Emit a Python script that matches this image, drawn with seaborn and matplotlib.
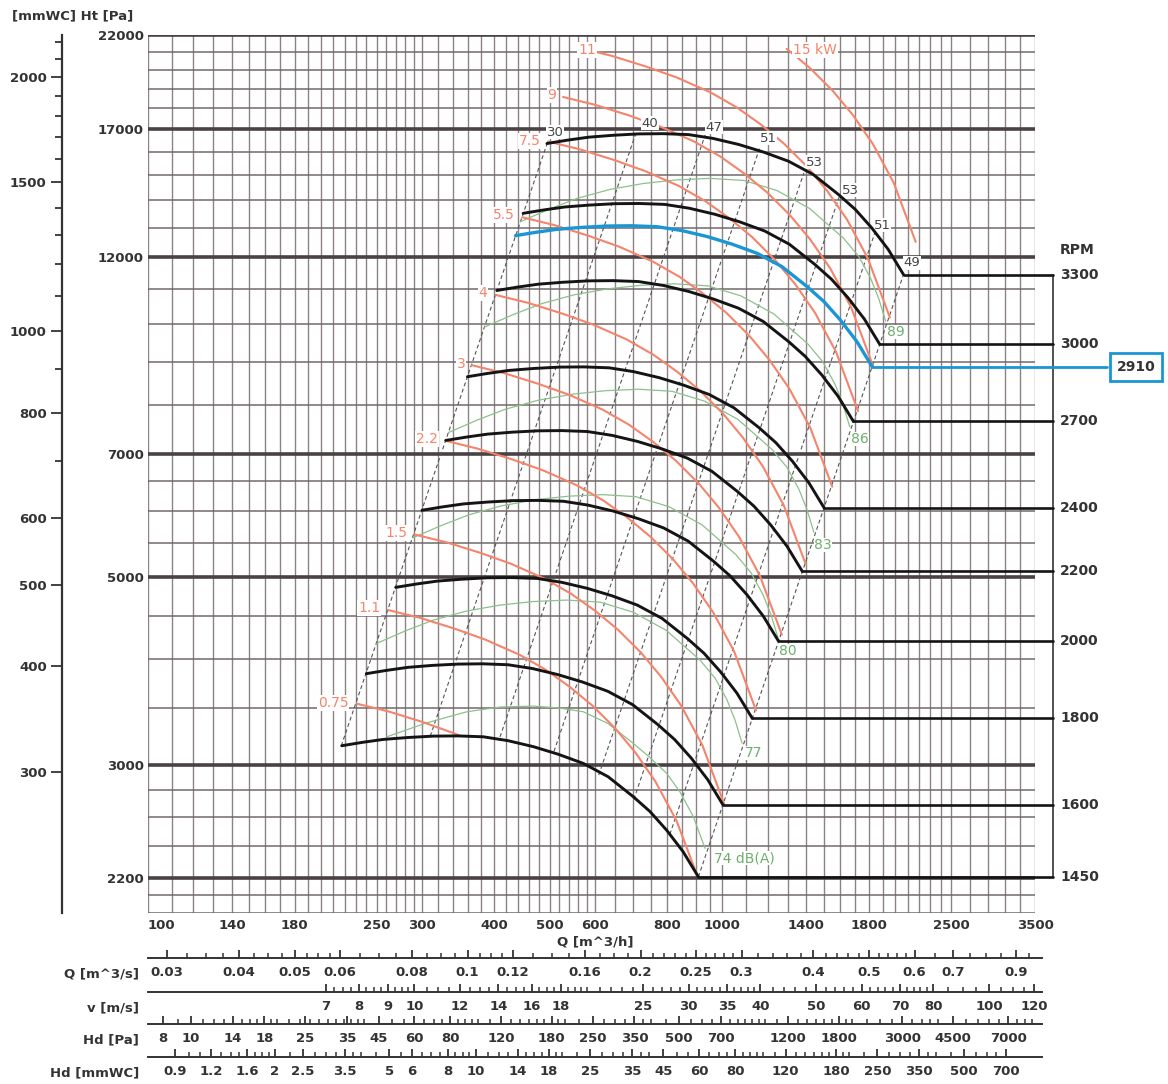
import numpy as np
import pandas as pd
import seaborn as sns
import matplotlib.pyplot as plt
from matplotlib.ticker import FixedLocator, FixedFormatter, NullFormatter, NullLocator

sns.set_theme(style="white")
plt.rcParams['font.family'] = ['DejaVu Sans']
plt.rcParams['font.weight'] = 'bold'

# ---- fan curves: Q [m^3/h], Ht [Pa] ----
q_1450 = [217.4, 235.9, 256.8, 283.6, 313.8, 346.5, 383.5, 423.4, 468.7, 517.4, 572.6, 632.2, 699.8, 748.2, 799.8, 853.9, 907.9]
p_1450 = [3158, 3187, 3213, 3230, 3242, 3244, 3236, 3202, 3150, 3086, 3009, 2902, 2747, 2638, 2507, 2365, 2208]
q_1600 = [239.9, 260.3, 283.4, 312.9, 346.3, 382.3, 423.2, 467.2, 517.2, 570.9, 631.8, 697.6, 772.2, 825.6, 882.5, 942.2, 1001.8]
p_1600 = [3845, 3880, 3912, 3933, 3947, 3950, 3940, 3899, 3835, 3758, 3664, 3533, 3345, 3212, 3053, 2880, 2688]
q_1800 = [269.9, 292.8, 318.8, 352.1, 389.5, 430.1, 476.1, 525.6, 581.8, 642.3, 710.8, 784.8, 868.7, 928.8, 992.8, 1060.0, 1127.0]
p_1800 = [4867, 4911, 4951, 4977, 4996, 4999, 4987, 4934, 4854, 4756, 4637, 4472, 4233, 4065, 3863, 3645, 3403]
q_2000 = [299.9, 325.4, 354.2, 391.2, 432.8, 477.9, 529.0, 584.0, 646.5, 713.7, 789.8, 872.0, 965.2, 1032.0, 1103.2, 1177.8, 1252.3]
p_2000 = [6008, 6063, 6113, 6145, 6168, 6172, 6157, 6092, 5993, 5871, 5725, 5521, 5226, 5019, 4770, 4499, 4201]
q_2200 = [329.8, 357.9, 389.6, 430.3, 476.1, 525.7, 581.9, 642.4, 711.1, 785.0, 868.8, 959.2, 1061.8, 1135.2, 1213.5, 1295.6, 1377.5]
p_2200 = [7270, 7336, 7396, 7436, 7463, 7468, 7449, 7371, 7251, 7104, 6927, 6680, 6324, 6073, 5771, 5444, 5083]
q_2400 = [359.8, 390.5, 425.0, 469.4, 519.4, 573.5, 634.8, 700.8, 775.8, 856.4, 947.8, 1046.4, 1158.3, 1238.4, 1323.8, 1413.3, 1502.7]
p_2400 = [8652, 8731, 8802, 8849, 8882, 8887, 8865, 8772, 8630, 8454, 8243, 7950, 7526, 7227, 6868, 6479, 6049]
q_2700 = [404.8, 439.3, 478.2, 528.1, 584.3, 645.2, 714.1, 788.4, 872.8, 963.4, 1066.2, 1177.2, 1303.1, 1393.2, 1489.3, 1590.0, 1690.6]
p_2700 = [10950, 11050, 11140, 11199, 11241, 11248, 11220, 11102, 10922, 10700, 10433, 10062, 9525, 9147, 8693, 8200, 7656]
q_3000 = [449.8, 488.1, 531.3, 586.8, 649.2, 716.9, 793.4, 876.0, 969.7, 1070.5, 1184.7, 1308.0, 1447.9, 1548.0, 1654.7, 1766.7, 1878.4]
p_3000 = [13518, 13642, 13754, 13826, 13878, 13886, 13852, 13706, 13484, 13210, 12880, 12422, 11759, 11292, 10731, 10124, 9452]
q_3300 = [494.8, 536.9, 584.4, 645.4, 714.2, 788.6, 872.8, 963.6, 1066.7, 1177.5, 1303.2, 1438.8, 1592.6, 1702.8, 1820.2, 1943.3, 2066.2]
p_3300 = [16357, 16507, 16642, 16730, 16792, 16803, 16761, 16585, 16316, 15984, 15585, 15031, 14228, 13664, 12985, 12250, 11436]
# selected duty point curve
q_2910 = [436.3, 473.4, 515.4, 569.2, 629.8, 695.4, 769.6, 849.7, 940.6, 1038.4, 1149.2, 1268.8, 1404.4, 1501.6, 1605.1, 1713.7, 1822.1]
p_2910 = [12719, 12836, 12941, 13009, 13058, 13066, 13033, 12896, 12687, 12429, 12119, 11688, 11064, 10625, 10097, 9525, 8893]

rpm_values = [1450, 1600, 1800, 2000, 2200, 2400, 2700, 3000, 3300]
rpm_q = [q_1450, q_1600, q_1800, q_2000, q_2200, q_2400, q_2700, q_3000, q_3300]
rpm_p = [p_1450, p_1600, p_1800, p_2000, p_2200, p_2400, p_2700, p_3000, p_3300]

# ---- shaft power curves [kW] ----
kw_0_75_q = [230.7, 262.3, 300.8, 340.2, 350.0]
kw_0_75_p = [3543, 3468, 3369, 3269, 3243]
kw_1_1_q = [262.1, 297.9, 341.7, 386.5, 443.0, 492.0, 541.6, 593.8, 651.3, 705.6, 764.6, 831.6, 901.2]
kw_1_1_p = [4574, 4477, 4348, 4220, 4050, 3888, 3711, 3524, 3309, 3099, 2863, 2574, 2227]
kw_1_5_q = [290.6, 330.4, 379.0, 428.7, 491.2, 545.6, 600.6, 658.5, 722.2, 782.5, 848.0, 922.2, 1007.0]
kw_1_5_p = [5625, 5506, 5348, 5190, 4981, 4781, 4564, 4333, 4069, 3811, 3521, 3165, 2694]
kw_2_2_q = [330.2, 375.4, 430.6, 487.1, 558.1, 619.9, 682.4, 748.2, 820.6, 889.0, 963.5, 1047.9, 1144.2]
kw_2_2_p = [7262, 7107, 6903, 6700, 6431, 6172, 5892, 5594, 5254, 4920, 4546, 4086, 3478]
kw_3_q = [366.2, 416.3, 477.5, 540.1, 618.9, 687.4, 756.7, 829.7, 910.0, 985.9, 1068.4, 1162.0, 1268.8]
kw_3_p = [8929, 8739, 8488, 8238, 7907, 7590, 7245, 6879, 6460, 6050, 5590, 5024, 4277]
kw_4_q = [403.1, 458.2, 525.5, 594.5, 681.2, 756.6, 832.9, 913.2, 1001.6, 1085.1, 1175.9, 1278.9, 1396.5]
kw_4_p = [10817, 10588, 10284, 9980, 9579, 9195, 8777, 8334, 7826, 7329, 6772, 6087, 5181]
kw_5_5_q = [448.2, 509.5, 584.4, 661.0, 757.5, 841.4, 926.1, 1015.4, 1113.7, 1206.6, 1307.6, 1422.1, 1552.9]
kw_5_5_p = [13375, 13091, 12715, 12340, 11844, 11369, 10852, 10304, 9676, 9062, 8373, 7526, 6406]
kw_7_5_q = [497, 565, 648, 733, 840, 933, 1027, 1126, 1235, 1338, 1450, 1577, 1722]
kw_7_5_p = [16447, 16098, 15636, 15174, 14565, 13980, 13345, 12671, 11899, 11144, 10296, 9255, 7878]
kw_9_q = [528.1, 600.4, 688.6, 778.9, 892.6, 991.5, 1091.4, 1196.6, 1312.4, 1421.8, 1540.9, 1675.8, 1829.9]
kw_9_p = [18573, 18179, 17657, 17135, 16447, 15787, 15070, 14309, 13437, 12584, 11627, 10451, 8896]
kw_11_q = [564.7, 641.9, 736.2, 832.8, 954.4, 1060.0, 1166.8, 1279.3, 1403.2, 1520.2, 1647.4, 1791.7, 1956.5]
kw_11_p = [21231, 20781, 20184, 19588, 18802, 18047, 17227, 16357, 15360, 14386, 13291, 11947, 10170]
kw_15_q = [1293.9, 1418.7, 1556.0, 1685.8, 1826.9, 1986.9, 2169.6]
kw_15_p = [21184, 20114, 18888, 17690, 16344, 14691, 12505]

kw_labels = ['0.75', '1.1', '1.5', '2.2', '3', '4', '5.5', '7.5', '9', '11', '15 kW']
kw_q = [kw_0_75_q, kw_1_1_q, kw_1_5_q, kw_2_2_q, kw_3_q, kw_4_q, kw_5_5_q, kw_7_5_q, kw_9_q, kw_11_q, kw_15_q]
kw_p = [kw_0_75_p, kw_1_1_p, kw_1_5_p, kw_2_2_p, kw_3_p, kw_4_p, kw_5_5_p, kw_7_5_p, kw_9_p, kw_11_p, kw_15_p]
kw_label_px = [(333, 703), (369, 608), (396, 533), (427, 439), (461, 364), (483, 293),
               (504, 215), (530, 141), (552, 95), (587, 50), (815, 50)]

# ---- sound level curves [dB(A)] ----
db_74_q = [260.4, 304.8, 358.8, 410.1, 468.7, 517.4, 572.6, 632.2, 699.8, 748.2, 799.8, 843.7, 890.0, 932.6]
db_74_p = [3236, 3360, 3465, 3510, 3519, 3502, 3465, 3355, 3178, 3057, 2928, 2783, 2601, 2386]
db_77_q = [250.1, 280.2, 313.9, 357.8, 410.1, 468.1, 535.7, 612.3, 698.9, 797.6, 914.1, 970.8, 1018.6, 1051.8, 1081.7]
db_77_p = [4177, 4320, 4451, 4561, 4637, 4682, 4701, 4675, 4549, 4330, 3990, 3799, 3578, 3387, 3181]
db_80_q = [288.8, 323.6, 362.5, 413.2, 473.6, 540.6, 618.6, 707.1, 807.1, 921.1, 1055.6, 1121.1, 1176.3, 1214.7, 1249.2]
db_80_p = [5571, 5761, 5936, 6083, 6184, 6244, 6269, 6235, 6067, 5775, 5321, 5066, 4772, 4517, 4242]
db_83_q = [333.5, 373.7, 418.6, 477.2, 546.9, 624.3, 714.4, 816.6, 932.1, 1063.7, 1219.1, 1294.7, 1358.4, 1402.7, 1442.6]
db_83_p = [7429, 7683, 7916, 8112, 8247, 8327, 8361, 8315, 8091, 7701, 7096, 6757, 6364, 6024, 5658]
db_86_q = [385.2, 431.5, 483.4, 551.1, 631.6, 720.9, 825.0, 943.0, 1076.4, 1228.4, 1407.8, 1495.1, 1568.8, 1619.9, 1665.9]
db_86_p = [9908, 10247, 10558, 10819, 10999, 11105, 11151, 11089, 10790, 10271, 9464, 9011, 8487, 8034, 7545]
db_89_q = [444.8, 498.4, 558.3, 636.4, 729.4, 832.5, 952.8, 1089.0, 1243.0, 1418.6, 1625.8, 1726.6, 1811.6, 1870.7, 1923.9]
db_89_p = [13213, 13665, 14080, 14428, 14668, 14811, 14871, 14788, 14390, 13697, 12622, 12017, 11318, 10714, 10063]

db_labels = ['74 dB(A)', '77', '80', '83', '86', '89']
db_q = [db_74_q, db_77_q, db_80_q, db_83_q, db_86_q, db_89_q]
db_p = [db_74_p, db_77_p, db_80_p, db_83_p, db_86_p, db_89_p]
db_label_px = [(744, 858), (754, 753), (788, 651), (823, 545), (860, 439), (896, 332)]

# ---- system lines with efficiency [%] at the top ----
sys_q_top = [497, 707, 933, 1160, 1386, 1596, 1844, 2066]
sys_p_top = [16472, 16832, 16743, 16130, 15100, 14130, 12845, 11436]
sys_q_bot = [217, 310, 410, 509, 609, 701, 810, 908]
sys_p_bot = [3158, 3242, 3235, 3110, 2915, 2728, 2480, 2208]
eff_labels = ['30', '40', '47', '51', '53', '53', '51', '49']
eff_label_px = [(555, 132), (650, 123), (714, 127), (768, 138), (814, 162), (850, 190), (882, 225), (912, 263)]

# ---- grid and axis ticks ----
grid_q = (list(range(100, 300, 10)) + list(range(300, 600, 20)) + list(range(600, 1000, 50))
          + list(range(1000, 2500, 100)) + list(range(2500, 3501, 200)))
grid_p = ([2100, 2200, 2400, 2600, 2800, 3000, 3500, 4000, 4500, 5000, 5500, 6000, 6500, 7000]
          + list(range(8000, 22001, 1000)))
major_p = [2200, 3000, 5000, 7000, 12000, 17000, 22000]
q_ticks = [100, 140, 180, 250, 300, 400, 500, 600, 800, 1000, 1400, 1800, 2500, 3500]
mm_ticks = [300, 400, 500, 600, 800, 1000, 1500, 2000]
mm_minor = [700, 900, 1100, 1200, 1300, 1400, 1600, 1700, 1800, 1900, 2100, 2200]

qs_labels = ['0.03', '0.04', '0.05', '0.06', '0.08', '0.1', '0.12', '0.16', '0.2', '0.25', '0.3',
             '0.4', '0.5', '0.6', '0.7', '0.9']
v_labels = ['7', '8', '9', '10', '12', '14', '16', '18', '25', '30', '35', '40', '50', '60', '70',
            '80', '100', '120']
hd_pa_labels = ['8', '10', '14', '18', '25', '35', '45', '60', '80', '120', '180', '250', '350', '500',
                '700', '1200', '1800', '3000', '4500', '7000']
hd_mm_labels = ['0.9', '1.2', '1.6', '2', '2.5', '3.5', '5', '6', '8', '10', '14', '18', '25', '35',
                '45', '60', '80', '120', '180', '250', '350', '500', '700']
K_V = 29.1  # m^3/h per m/s of outlet velocity (from the v scale)

BLACK = '#141414'
BLUE = '#1b96d4'
ORANGE = '#f4846b'
GREEN = '#8cc08c'
GREEN_TXT = '#6fae6f'
GRAY_TXT = '#333333'

W, H = 1168, 1084
L, R, T, B = 148, 1035, 35, 913
Q_MIN, Q_MAX = 100, 3500
P_MIN, P_MAX = 2000, 22000

fig = plt.figure(figsize=(W / 100, H / 100), dpi=100, facecolor='white')
ax = fig.add_axes([L / W, 1 - B / H, (R - L) / W, (B - T) / H])
ax.set_xscale('log')
ax.set_yscale('log')
ax.set_xlim(Q_MIN, Q_MAX)
ax.set_ylim(P_MIN, P_MAX)
for s in ax.spines.values():
    s.set_visible(False)


def at(x, y):
    # page position in pixels -> data position, used to place labels only
    fx = (x - L) / (R - L)
    fy = (B - y) / (B - T)
    return Q_MIN * (Q_MAX / Q_MIN) ** fx, P_MIN * (P_MAX / P_MIN) ** fy


def curve(q, p, color, lw, z, ls='-'):
    sns.lineplot(x=q, y=p, ax=ax, color=color, linewidth=lw, sort=False, estimator=None,
                 legend=False, zorder=z, linestyle=ls)


# grid
for q in grid_q:
    ax.axvline(q, color='#8c8484', lw=1.0, zorder=1)
for p in grid_p + [P_MIN]:
    if p in major_p:
        ax.axhline(p, color='#4a4242', lw=2.6, zorder=1.2)
    else:
        ax.axhline(p, color='#726a6a', lw=1.1, zorder=1.1)

ax.set_xticks(q_ticks)
ax.set_xticklabels([str(v) for v in q_ticks])
ax.xaxis.set_minor_locator(NullLocator())
ax.set_yticks(major_p)
ax.set_yticklabels([str(v) for v in major_p])
ax.yaxis.set_minor_locator(NullLocator())
ax.tick_params(axis='x', length=0, pad=4, labelsize=9.5, labelcolor=GRAY_TXT)
ax.tick_params(axis='y', length=0, pad=3, labelsize=9.5, labelcolor=GRAY_TXT)
ax.get_xticklabels()[0].set_horizontalalignment('left')

# outer mmWC scale
sec = ax.secondary_yaxis(-(L - 62) / (R - L), functions=(lambda p: p / 9.80665, lambda m: m * 9.80665))
sec.set_yticks(mm_ticks, labels=[str(v) for v in mm_ticks])
sec.yaxis.set_minor_locator(FixedLocator(mm_minor))
sec.yaxis.set_minor_formatter(NullFormatter())
sec.tick_params(which='both', left=True)
sec.tick_params(which='major', length=8, width=1.3, color=GRAY_TXT, pad=3, labelsize=9.5, labelcolor=GRAY_TXT)
sec.tick_params(which='minor', length=5, width=1.3, color=GRAY_TXT)
sec.spines['left'].set_color(GRAY_TXT)
sec.spines['left'].set_linewidth(1.6)

fig.text(12 / W, 1 - 16 / H, '[mmWC] Ht [Pa]', ha='left', va='center', fontsize=9.5, color=GRAY_TXT)
fig.text(595 / W, 1 - 942 / H, 'Q [m^3/h]', ha='center', va='center', fontsize=9.5, color=GRAY_TXT)

# system lines
for qt, pt, qb, pb in zip(sys_q_top, sys_p_top, sys_q_bot, sys_p_bot):
    curve([qb, qt], [pb, pt], '#555555', 0.8, 2, ls=(0, (3.5, 2.5)))
for lab, (x, y) in zip(eff_labels, eff_label_px):
    ax.text(*at(x, y), lab, ha='center', va='center', fontsize=9.5, fontweight='normal', color='#444444',
            zorder=9, bbox=dict(facecolor='white', edgecolor='none', pad=0.4))

# sound curves
for q, p in zip(db_q, db_p):
    curve(q, p, GREEN, 0.9, 3)
for lab, (x, y) in zip(db_labels, db_label_px):
    ax.text(*at(x, y), lab, ha='center', va='center', fontsize=10, fontweight='normal', color=GREEN_TXT,
            zorder=9, bbox=dict(facecolor='white', edgecolor='none', pad=0.3))

# power curves
for q, p in zip(kw_q, kw_p):
    curve(q, p, ORANGE, 1.5, 4)
for lab, (x, y) in zip(kw_labels, kw_label_px):
    ax.text(*at(x, y), lab, ha='center', va='center', fontsize=10, fontweight='normal', color=ORANGE,
            zorder=9, bbox=dict(facecolor='white', edgecolor='none', pad=0.6))

# speed curves with tails to the RPM scale
q_tail = Q_MIN * (Q_MAX / Q_MIN) ** ((1053 - L) / (R - L))
for rpm, q, p in zip(rpm_values, rpm_q, rpm_p):
    curve(q, p, BLACK, 2.1, 10)
    ax.plot([q[-1], q_tail], [p[-1], p[-1]], color=BLACK, lw=1.9, zorder=10, clip_on=False)
    ax.text((1060 - L) / (R - L), p[-1], str(rpm), transform=ax.get_yaxis_transform(),
            ha='left', va='center', fontsize=10, color=GRAY_TXT)
ax.plot([q_tail, q_tail], [p_3300[-1], p_1450[-1]], color=GRAY_TXT, lw=1.2, zorder=5, clip_on=False)
ax.text((1060 - L) / (R - L), at(0, 250)[1], 'RPM', transform=ax.get_yaxis_transform(),
        ha='left', va='center', fontsize=10, color=GRAY_TXT)

curve(q_2910, p_2910, BLUE, 2.4, 11)
q_box = Q_MIN * (Q_MAX / Q_MIN) ** ((1107 - L) / (R - L))
ax.plot([q_2910[-1], q_box], [p_2910[-1], p_2910[-1]], color=BLUE, lw=2, zorder=11, clip_on=False)
ax.text((1136 - L) / (R - L), p_2910[-1], '2910', transform=ax.get_yaxis_transform(),
        ha='center', va='center', fontsize=10, color=GRAY_TXT, zorder=12,
        bbox=dict(boxstyle='square,pad=0.5', facecolor='white', edgecolor=BLUE, linewidth=2))

# auxiliary scales under the chart
ROW_R = 1041.7
q_row_max = Q_MIN * (Q_MAX / Q_MIN) ** ((ROW_R - L) / (R - L))


def scale_row(y_line, title, q_pos, labels, q_minor):
    a = fig.add_axes([L / W, 1 - y_line / H, (ROW_R - L) / W, 1e-4])
    a.set_xscale('log')
    a.set_xlim(Q_MIN, q_row_max)
    a.patch.set_alpha(0)
    a.set_yticks([])
    for s in ('top', 'left', 'right'):
        a.spines[s].set_visible(False)
    a.spines['bottom'].set_color(GRAY_TXT)
    a.spines['bottom'].set_linewidth(1.4)
    a.xaxis.set_major_locator(FixedLocator(q_pos))
    a.xaxis.set_major_formatter(FixedFormatter(labels))
    a.xaxis.set_minor_locator(FixedLocator([q for q in q_minor if Q_MIN <= q <= q_row_max]))
    a.xaxis.set_minor_formatter(NullFormatter())
    a.tick_params(axis='x', which='both', bottom=True)
    a.tick_params(axis='x', which='major', direction='in', length=6, width=1.3, color=GRAY_TXT,
                  pad=6, labelsize=9.5, labelcolor=GRAY_TXT)
    a.tick_params(axis='x', which='minor', direction='in', length=3.5, width=1.1, color=GRAY_TXT)
    fig.text(139 / W, 1 - (y_line + 16) / H, title, ha='right', va='center', fontsize=9.5, color=GRAY_TXT)


qs_vals = [float(s) for s in qs_labels]
qs_minor = (list(np.arange(0.03, 0.06, 0.0025)) + list(np.arange(0.06, 0.12, 0.005))
            + list(np.arange(0.12, 0.3, 0.01)) + list(np.arange(0.3, 0.6, 0.02)) + list(np.arange(0.6, 1.0, 0.05)))
scale_row(958, 'Q [m^3/s]', [v * 3600 for v in qs_vals], qs_labels, [v * 3600 for v in qs_minor])

v_vals = [float(s) for s in v_labels]
v_minor = (list(np.arange(7, 10, 0.25)) + list(np.arange(10, 20, 0.5)) + list(np.arange(20, 40, 1))
           + list(np.arange(40, 80, 2)) + list(np.arange(80, 125, 5)))
scale_row(991.5, 'v [m/s]', [v * K_V for v in v_vals], v_labels, [v * K_V for v in v_minor])


def q_from_hd(hd_pa):
    return np.sqrt(np.asarray(hd_pa, dtype=float) / 0.6) * K_V


hd_vals = [float(s) for s in hd_pa_labels]
hd_minor = (list(np.arange(8, 20, 1)) + list(np.arange(20, 40, 2)) + list(np.arange(40, 100, 5))
            + list(np.arange(100, 200, 10)) + list(np.arange(200, 400, 25)) + list(np.arange(400, 1000, 50))
            + list(np.arange(1000, 2000, 100)) + list(np.arange(2000, 4000, 250)) + list(np.arange(4000, 9000, 500)))
scale_row(1023.5, 'Hd [Pa]', list(q_from_hd(hd_vals)), hd_pa_labels, list(q_from_hd(hd_minor)))

mm_vals = [float(s) for s in hd_mm_labels]
mm_minor_row = (list(np.arange(0.9, 2, 0.1)) + list(np.arange(2, 4, 0.25)) + list(np.arange(4, 10, 0.5))
                + list(np.arange(10, 20, 1)) + list(np.arange(20, 40, 2.5)) + list(np.arange(40, 100, 5))
                + list(np.arange(100, 200, 10)) + list(np.arange(200, 400, 25)) + list(np.arange(400, 750, 50)))
scale_row(1056.5, 'Hd [mmWC]', list(q_from_hd(np.array(mm_vals) * 9.80665)), hd_mm_labels,
          list(q_from_hd(np.array(mm_minor_row) * 9.80665)))

fig.savefig('out.png', dpi=100, facecolor='white')
